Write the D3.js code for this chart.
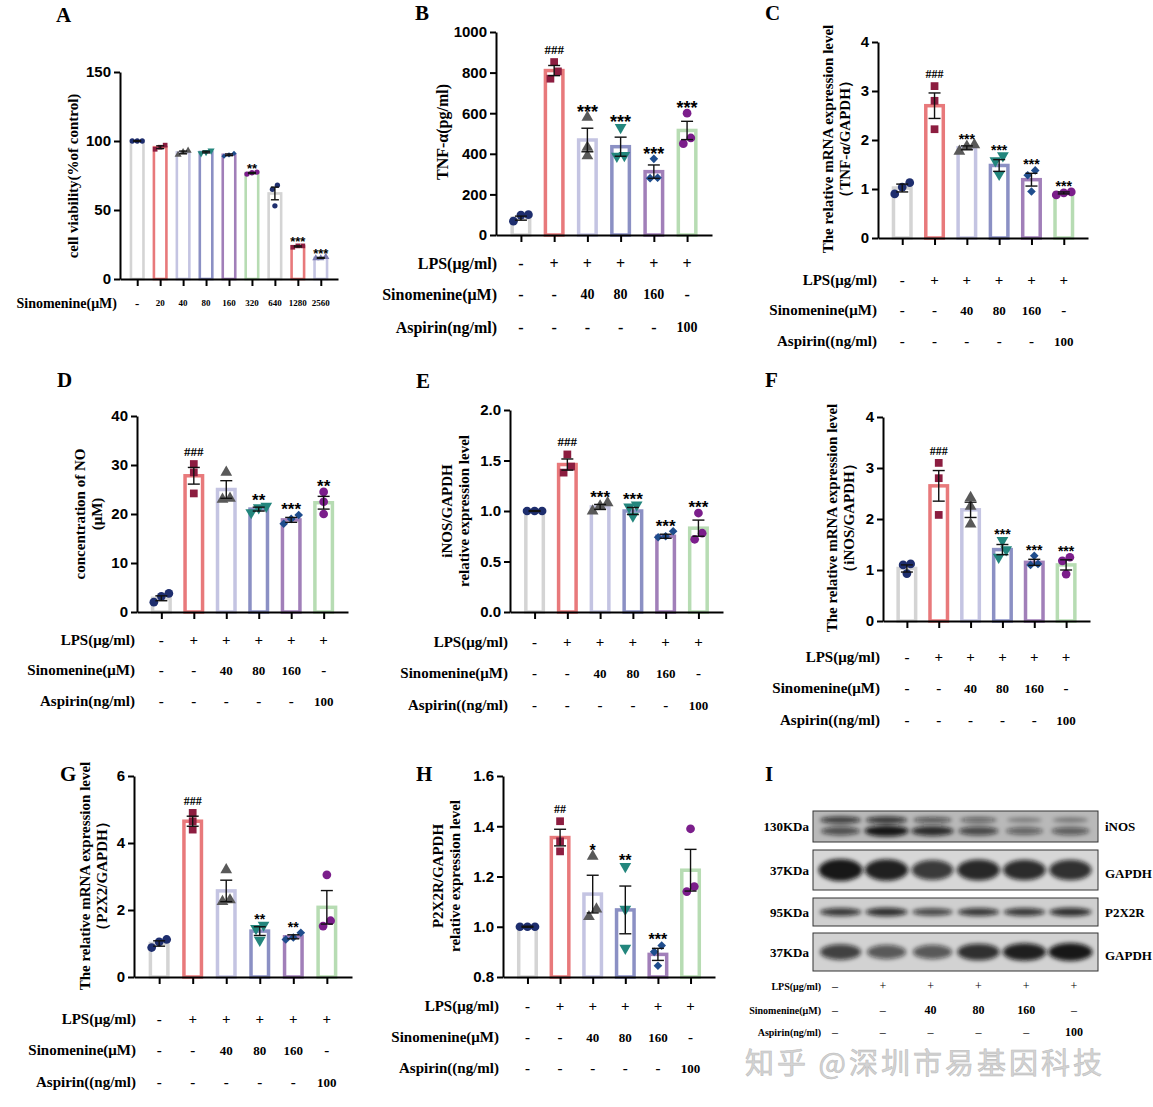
<!DOCTYPE html>
<html>
<head>
<meta charset="utf-8">
<script src="https://cdn.jsdelivr.net/npm/d3@7"></script>
<style>
body { margin: 0; background: #fff; }
svg { display: block; }
</style>
</head>
<body>
<div id="vizHolder"></div>
<script>
// ---- data ----
// A: cell viability vs sinomenine dose
var doseLabels = ['-', '20', '40', '80', '160', '320', '640', '1280', '2560'];
var viabMean = [100, 95.5, 91.7, 92, 90, 76.8, 62, 23.6, 15.3];
var viabSem = [0.3, 1, 1, 0.6, 0.6, 0.4, 4.6, 0.4, 0.3];
var viabPts = [[100, 100, 100], [94, 95.5, 97], [90, 92, 93], [91, 92, 93], [89, 90, 91], [76, 77, 77.5], [53, 65, 68], [23, 24, 24], [15, 15, 16]];
var viabSig = ['', '', '', '', '', '**', '', '***', '***'];

// treatment rows shared by B-I
var lpsRow = ['-', '+', '+', '+', '+', '+'];
var sinoRow = ['-', '-', '40', '80', '160', '-'];
var aspRow = ['-', '-', '-', '-', '-', '100'];

// B: TNF-a ELISA (pg/ml)
var tnfMean = [83, 810, 468, 435, 312, 515];
var tnfSem = [10, 25, 58, 47, 33, 45];
var tnfPts = [[68, 98, 100], [770, 806, 852], [390, 432, 580], [388, 392, 530], [280, 282, 375], [450, 478, 600]];
var tnfSig = ['', '###', '***', '***', '***', '***'];

// C: TNF-a mRNA
var tnfMrnaMean = [1.02, 2.7, 1.84, 1.48, 1.19, 0.92];
var tnfMrnaSem = [0.08, 0.26, 0.04, 0.12, 0.13, 0.02];
var tnfMrnaPts = [[0.9, 1.04, 1.13], [2.22, 2.8, 3.1], [1.77, 1.87, 1.9], [1.3, 1.58, 1.68], [0.95, 1.28, 1.38], [0.88, 0.92, 0.94]];
var tnfMrnaSig = ['', '###', '***', '***', '***', '***'];

// D: NO concentration (uM)
var noMean = [2.8, 27.8, 25, 21, 18.8, 22.3];
var noSem = [0.5, 1.7, 1.8, 0.4, 0.5, 1.3];
var noPts = [[2, 3.2, 3.8], [24.2, 28.5, 30.2], [23, 23.2, 28.5], [20.3, 21.3, 21.6], [18, 19, 19.8], [20, 22.5, 24.5]];
var noSig = ['', '###', '', '**', '***', '**'];

// E: iNOS / GAPDH protein
var inosMean = [1.0, 1.46, 1.04, 1.0, 0.75, 0.83];
var inosSem = [0.004, 0.055, 0.025, 0.035, 0.02, 0.08];
var inosPts = [[1, 1, 1], [1.38, 1.44, 1.56], [1.0, 1.05, 1.08], [0.95, 1.04, 1.06], [0.74, 0.75, 0.8], [0.72, 0.78, 0.98]];
var inosSig = ['', '###', '***', '***', '***', '***'];

// F: iNOS mRNA
var inosMrnaMean = [1.03, 2.65, 2.18, 1.4, 1.15, 1.1];
var inosMrnaSem = [0.07, 0.3, 0.15, 0.1, 0.06, 0.1];
var inosMrnaPts = [[0.93, 1.1, 1.12], [2.08, 2.8, 3.1], [1.9, 2.25, 2.42], [1.25, 1.4, 1.58], [1.1, 1.12, 1.28], [0.92, 1.18, 1.25]];
var inosMrnaSig = ['', '###', '', '***', '***', '***'];

// G: P2X2 mRNA
var p2x2MrnaMean = [1.0, 4.65, 2.57, 1.37, 1.2, 2.08];
var p2x2MrnaSem = [0.08, 0.15, 0.32, 0.13, 0.06, 0.5];
var p2x2MrnaPts = [[0.88, 1.05, 1.12], [4.4, 4.65, 4.9], [2.25, 2.3, 3.2], [1.1, 1.45, 1.55], [1.12, 1.18, 1.32], [1.52, 1.68, 3.05]];
var p2x2MrnaSig = ['', '###', '', '**', '**', ''];

// H: P2X2R / GAPDH protein
var p2x2Mean = [1.0, 1.355, 1.13, 1.067, 0.89, 1.225];
var p2x2Sem = [0.002, 0.033, 0.075, 0.095, 0.024, 0.083];
var p2x2Pts = [[1, 1, 1], [1.3, 1.34, 1.42], [1.04, 1.07, 1.28], [0.915, 1.07, 1.24], [0.845, 0.9, 0.925], [1.14, 1.16, 1.39]];
var p2x2Sig = ['', '##', '*', '**', '***', ''];

// I: western blot band strengths (0-1), per lane
var inosUpperBand = [0.75, 0.8, 0.55, 0.45, 0.25, 0.3];
var inosLowerBand = [0.6, 1.0, 0.85, 0.65, 0.45, 0.5];
var gapdh1Band = [1.0, 0.95, 0.8, 0.9, 0.88, 0.85];
var p2x2rBand = [0.8, 0.85, 0.7, 0.8, 0.8, 0.85];
var gapdh2Band = [0.75, 0.6, 0.6, 0.85, 0.95, 1.0];

// ---- drawing ----
var SERIF = '"Liberation Serif", "Times New Roman", serif',
	SANS = '"Liberation Sans", Arial, sans-serif',
	barColors = ['#d4d4d4', '#e8797b', '#c4c4e2', '#8b90c4', '#a17fb9', '#b7dcb3'],
	mkColors = ['#1e2e6e', '#8c1d40', '#595959', '#23867d', '#1f4d8d', '#7b1e8b'],
	mkShapes = ['circle', 'square', 'triangle', 'tridown', 'diamond', 'circle'];

var svg = d3.select('#vizHolder').append('svg')
	.attr('width', 1153)
	.attr('height', 1107);

svg.append('rect').attr('width', 1153).attr('height', 1107).attr('fill', '#fff');

function symPath(shape, size) {
	var t = { circle: d3.symbolCircle, square: d3.symbolSquare, triangle: d3.symbolTriangle,
		tridown: d3.symbolTriangle, diamond: d3.symbolSquare }[shape];
	return d3.symbol().type(t).size(shape === 'diamond' ? size * 0.62 : size)();
}
function symRot(shape) { return shape === 'tridown' ? 180 : (shape === 'diamond' ? 45 : 0); }

// spread points that overlap vertically
function spread(vals, y, thr, gap) {
	var idx = vals.map(function(v, i) { return i; }).sort(function(a, b) { return vals[a] - vals[b]; }),
		off = vals.map(function() { return 0; }),
		cl = [idx[0]];
	function flush() { cl.forEach(function(k, j) { off[k] = (j - (cl.length - 1) / 2) * gap; }); }
	for (var i = 1; i < idx.length; i++) {
		if (Math.abs(y(vals[idx[i]]) - y(vals[idx[i - 1]])) < thr) cl.push(idx[i]);
		else { flush(); cl = [idx[i]]; }
	}
	flush();
	return off;
}

function letter(t, x, y) {
	svg.append('text').attr('x', x).attr('y', y)
		.style('font', 'bold 21px ' + SERIF).text(t);
}

function yLabel(lines, xs, yc, fs) {
	lines.forEach(function(t, i) {
		svg.append('text')
			.attr('transform', 'translate(' + xs[i] + ',' + yc + ') rotate(-90)')
			.attr('text-anchor', 'middle')
			.attr('dominant-baseline', 'central')
			.style('font', 'bold ' + fs + 'px ' + SERIF)
			.text(t);
	});
}

function rows(x, defs, labelX, fs) {
	defs.forEach(function(r) {
		svg.append('text').attr('x', labelX).attr('y', r.y)
			.attr('text-anchor', 'end').attr('dominant-baseline', 'central')
			.style('font', 'bold ' + fs + 'px ' + SERIF).text(r.label);
		svg.selectAll(null).data(r.vals).enter().append('text')
			.attr('x', function(d, i) { return x(i); })
			.attr('y', r.y)
			.attr('text-anchor', 'middle').attr('dominant-baseline', 'central')
			.attr('fill', '#000')
			.style('font', function(d) { return 'bold ' + (d.length > 1 ? (r.numFs || fs - 2) : fs) + 'px ' + SERIF; })
			.text(function(d) { return d; });
	});
}

function barPanel(p) {
	var n = p.mean.length;
	var g = svg.append('g');
	var x = d3.scalePoint().domain(d3.range(n)).range([p.L, p.R]).padding(0.75);
	var y = d3.scaleLinear().domain(p.dom).range([p.bottom, p.top]);
	var base = p.dom[0];

	// bars
	g.selectAll('rect.bar').data(p.mean).enter().append('rect')
		.attr('class', 'bar')
		.attr('x', function(d, i) { return x(i) - p.bw / 2; })
		.attr('y', function(d) { return y(d); })
		.attr('width', p.bw)
		.attr('height', function(d) { return y(base) - y(d); })
		.attr('fill', '#fff')
		.attr('stroke', function(d, i) { return p.colors[i]; })
		.attr('stroke-width', p.sw);

	// points
	p.pts.forEach(function(vals, i) {
		var off = spread(vals, y, p.thr, p.gap),
			shape = p.shapes[i];
		g.selectAll(null).data(vals).enter().append('path')
			.attr('d', symPath(shape, p.msize))
			.attr('transform', function(d, j) {
				return 'translate(' + (x(i) + off[j]) + ',' + y(d) + ') rotate(' + symRot(shape) + ')';
			})
			.attr('fill', p.mcolors[i]);
	});

	// error bars
	var eb = g.selectAll('g.eb').data(p.mean).enter().append('g')
		.attr('stroke', '#111').attr('stroke-width', 1.4);
	eb.append('line')
		.attr('x1', function(d, i) { return x(i); })
		.attr('x2', function(d, i) { return x(i); })
		.attr('y1', function(d, i) { return y(d - p.sem[i]); })
		.attr('y2', function(d, i) { return y(d + p.sem[i]); });
	[-1, 1].forEach(function(s) {
		eb.append('line')
			.attr('x1', function(d, i) { return x(i) - p.cap; })
			.attr('x2', function(d, i) { return x(i) + p.cap; })
			.attr('y1', function(d, i) { return y(d + s * p.sem[i]); })
			.attr('y2', function(d, i) { return y(d + s * p.sem[i]); });
	});

	// significance marks
	g.selectAll('text.sig').data(p.sig).enter().append('text')
		.attr('class', 'sig')
		.attr('x', function(d, i) { return x(i); })
		.attr('y', function(d, i) {
			var top = y(Math.max(d3.max(p.pts[i]), p.mean[i] + p.sem[i])) - p.mr;
			return d.charAt(0) === '#' ? top - 3 : top - 2 + 0.43 * p.starFs;
		})
		.attr('text-anchor', 'middle')
		.style('font', function(d) {
			return d.charAt(0) === '#' ? 'bold ' + p.hashFs + 'px ' + SERIF : 'bold ' + p.starFs + 'px ' + SANS;
		})
		.text(function(d) { return d; });

	// axes
	var ya = g.append('g').attr('transform', 'translate(' + p.L + ',0)')
		.call(d3.axisLeft(y).tickValues(p.ticks).tickFormat(p.fmt || d3.format('d')).tickSize(6).tickSizeOuter(0));
	var xa = g.append('g').attr('transform', 'translate(0,' + p.bottom + ')')
		.call(d3.axisBottom(x).tickFormat('').tickSize(7).tickSizeOuter(0));
	[ya, xa].forEach(function(a) {
		a.selectAll('path, line').attr('stroke', '#000').attr('stroke-width', 2);
		a.selectAll('text').attr('fill', '#000').style('font', 'bold 15px ' + SANS);
	});
	ya.selectAll('text').attr('x', -9);
	return x;
}

var six = {
	bw: 17.5, sw: 3.5, cap: 6, msize: 60, mr: 5, thr: 8, gap: 7.5,
	colors: barColors, mcolors: mkColors, shapes: mkShapes, hashFs: 13, starFs: 17
};
function cfg(extra) { return Object.assign({}, six, extra); }

// A (nine groups; colours repeat after the sixth)
var nine = d3.range(9);
var xA = barPanel({
	L: 120, R: 338, top: 72, bottom: 279, dom: [0, 150], ticks: [0, 50, 100, 150],
	mean: viabMean, sem: viabSem, pts: viabPts, sig: viabSig,
	bw: 12.5, sw: 2.6, cap: 4, msize: 22, mr: 3, thr: 5, gap: 5,
	colors: nine.map(function(i) { return i < 6 ? barColors[i] : barColors[i - 6]; }),
	mcolors: nine.map(function(i) { return i < 6 ? mkColors[i] : [mkColors[0], mkColors[1], '#7b7bb0'][i - 6]; }),
	shapes: nine.map(function(i) { return i < 6 ? mkShapes[i] : ['circle', 'square', 'triangle'][i - 6]; }),
	hashFs: 11, starFs: 13
});
letter('A', 56, 22);
yLabel(['cell viability(%of control)'], [73], 176, 15);
svg.append('text').attr('x', 117).attr('y', 303).attr('text-anchor', 'end').attr('dominant-baseline', 'central')
	.style('font', 'bold 14px ' + SERIF).text('Sinomenine(μM)');
svg.selectAll(null).data(doseLabels).enter().append('text')
	.attr('x', function(d, i) { return xA(i); }).attr('y', 303)
	.attr('text-anchor', 'middle').attr('dominant-baseline', 'central')
	.style('font', function(d) { return 'bold ' + (d === '-' ? 13 : 9) + 'px ' + SERIF; })
	.text(function(d) { return d; });

var rowLabels = ['LPS(μg/ml)', 'Sinomenine(μM)', 'Aspirin(ng/ml)'];
var rowLabels2 = ['LPS(μg/ml)', 'Sinomenine(μM)', 'Aspirin((ng/ml)'];
function rowDefs(labels, ys) {
	return [lpsRow, sinoRow, aspRow].map(function(v, i) { return { label: labels[i], vals: v, y: ys[i] }; });
}

// B
var xB = barPanel(cfg({ L: 496, R: 712, top: 32, bottom: 235, dom: [0, 1000], ticks: d3.range(0, 1001, 200),
	mean: tnfMean, sem: tnfSem, pts: tnfPts, sig: tnfSig, starFs: 18 }));
letter('B', 415, 20);
yLabel(['TNF-α(pg/ml)'], [442], 132, 16);
rows(xB, rowDefs(rowLabels, [263, 294, 327]), 497, 16);

// C
var xC = barPanel(cfg({ L: 878, R: 1088, top: 42, bottom: 238, dom: [0, 4], ticks: [0, 1, 2, 3, 4],
	mean: tnfMrnaMean, sem: tnfMrnaSem, pts: tnfMrnaPts, sig: tnfMrnaSig, starFs: 14, hashFs: 12 }));
letter('C', 765, 20);
yLabel(['The relative mRNA expression level', '（TNF-α/GAPDH）'], [828, 845], 139, 15);
rows(xC, rowDefs(rowLabels2, [280, 310, 341]), 877, 15);

// D
var xD = barPanel(cfg({ L: 137, R: 348, top: 416, bottom: 612, dom: [0, 40], ticks: [0, 10, 20, 30, 40],
	mean: noMean, sem: noSem, pts: noPts, sig: noSig, starFs: 17 }));
letter('D', 57, 387);
yLabel(['concentration of NO', '(μM)'], [80, 97], 514, 15);
rows(xD, rowDefs(rowLabels, [640, 670, 701]), 135, 15);

// E
var xE = barPanel(cfg({ L: 510, R: 723, top: 410, bottom: 612, dom: [0, 2], ticks: [0, 0.5, 1, 1.5, 2], fmt: d3.format('.1f'),
	mean: inosMean, sem: inosSem, pts: inosPts, sig: inosSig, starFs: 17 }));
letter('E', 416, 388);
yLabel(['iNOS/GAPDH', 'relative expression level'], [447, 464], 511, 15);
rows(xE, rowDefs(rowLabels2, [642, 673, 705]), 508, 15);

// F
var xF = barPanel(cfg({ L: 883, R: 1090, top: 417, bottom: 621, dom: [0, 4], ticks: [0, 1, 2, 3, 4],
	mean: inosMrnaMean, sem: inosMrnaSem, pts: inosMrnaPts, sig: inosMrnaSig, starFs: 14, hashFs: 12 }));
letter('F', 765, 387);
yLabel(['The relative mRNA expression level', '（iNOS/GAPDH）'], [832, 849], 518, 15);
rows(xF, rowDefs(rowLabels2, [657, 688, 720]), 880, 15);

// G
var xG = barPanel(cfg({ L: 134, R: 352, top: 776, bottom: 977, dom: [0, 6], ticks: [0, 2, 4, 6],
	mean: p2x2MrnaMean, sem: p2x2MrnaSem, pts: p2x2MrnaPts, sig: p2x2MrnaSig, starFs: 14, hashFs: 12 }));
letter('G', 60, 781);
yLabel(['The relative mRNA expression level', '（P2X2/GAPDH）'], [85, 102], 876, 15);
rows(xG, rowDefs(rowLabels2, [1019, 1050, 1082]), 136, 15);

// H
var xH = barPanel(cfg({ L: 503, R: 715, top: 776, bottom: 977, dom: [0.8, 1.6], ticks: [0.8, 1.0, 1.2, 1.4, 1.6], fmt: d3.format('.1f'),
	mean: p2x2Mean, sem: p2x2Sem, pts: p2x2Pts, sig: p2x2Sig, starFs: 16, hashFs: 12 }));
letter('H', 416, 781);
yLabel(['P2X2R/GAPDH', 'relative expression level'], [438, 455], 876, 15);
rows(xH, rowDefs(rowLabels2, [1006, 1037, 1068]), 499, 15);

// I: western blot
letter('I', 765, 781);
var defs = svg.append('defs');
defs.append('filter').attr('id', 'blur').attr('x', '-50%').attr('y', '-100%').attr('width', '200%').attr('height', '300%')
	.append('feGaussianBlur').attr('stdDeviation', 2.2);

var lane = d3.scalePoint().domain(d3.range(6)).range([813, 1098]).padding(0.6);
var alpha = d3.scaleLinear().domain([0, 1]).range([0.15, 0.95]);
var blots = [
	{ y0: 811, y1: 842, bg: '#b9b9b9', kda: '130KDa', name: 'iNOS',
		bands: [{ v: inosUpperBand, cy: 820, ry: 4 }, { v: inosLowerBand, cy: 831, ry: 5.5 }] },
	{ y0: 850, y1: 890, bg: '#d7d7d7', kda: '37KDa', name: 'GAPDH',
		bands: [{ v: gapdh1Band, cy: 870, ry: 11 }] },
	{ y0: 898, y1: 926, bg: '#cfcfcf', kda: '95KDa', name: 'P2X2R',
		bands: [{ v: p2x2rBand, cy: 912, ry: 4.5 }] },
	{ y0: 933, y1: 971, bg: '#d2d2d2', kda: '37KDa', name: 'GAPDH',
		bands: [{ v: gapdh2Band, cy: 952, ry: 9 }] }
];
blots.forEach(function(b) {
	svg.append('rect').attr('x', 813).attr('y', b.y0).attr('width', 285).attr('height', b.y1 - b.y0)
		.attr('fill', b.bg).attr('stroke', '#333').attr('stroke-width', 1);
	var bg = svg.append('g').attr('filter', 'url(#blur)');
	b.bands.forEach(function(band) {
		bg.selectAll(null).data(band.v).enter().append('ellipse')
			.attr('cx', function(d, i) { return lane(i); })
			.attr('cy', band.cy)
			.attr('rx', function(d) { return 16 + 6 * d; })
			.attr('ry', function(d) { return band.ry * (0.5 + 0.5 * d); })
			.attr('fill', '#0d0d0d')
			.attr('fill-opacity', function(d) { return alpha(d); });
	});
	var cy = (b.y0 + b.y1) / 2;
	svg.append('text').attr('x', 809).attr('y', cy).attr('text-anchor', 'end').attr('dominant-baseline', 'central')
		.style('font', 'bold 13px ' + SERIF).text(b.kda);
	svg.append('text').attr('x', 1105).attr('y', cy + (b.name === 'GAPDH' ? 3 : 0)).attr('dominant-baseline', 'central')
		.style('font', 'bold 13px ' + SERIF).text(b.name);
});
var laneT = d3.scalePoint().domain(d3.range(6)).range([835, 1074]);
var blotRows = [
	{ label: 'LPS(μg/ml)', vals: lpsRow, y: 986 },
	{ label: 'Sinomenine(μM)', vals: sinoRow, y: 1010 },
	{ label: 'Aspirin(ng/ml)', vals: aspRow, y: 1032 }
];
blotRows.forEach(function(r) {
	svg.append('text').attr('x', 821).attr('y', r.y).attr('text-anchor', 'end').attr('dominant-baseline', 'central')
		.style('font', 'bold 10px ' + SERIF).text(r.label);
	svg.selectAll(null).data(r.vals).enter().append('text')
		.attr('x', function(d, i) { return laneT(i); }).attr('y', r.y)
		.attr('text-anchor', 'middle').attr('dominant-baseline', 'central')
		.style('font', function(d) { return (d === '-' || d === '+' ? 'normal 12px ' : 'bold 12px ') + SERIF; })
		.text(function(d) { return d === '-' ? '–' : d; });
});

// watermark
svg.append('text').attr('x', 745).attr('y', 1074)
	.style('font', '29px "Noto Sans CJK SC", sans-serif')
	.style('letter-spacing', '3px')
	.attr('fill', '#d4d4d4').attr('stroke', '#bdbdbd').attr('stroke-width', 0.6)
	.text('知乎 @深圳市易基因科技');
</script>
</body>
</html>
